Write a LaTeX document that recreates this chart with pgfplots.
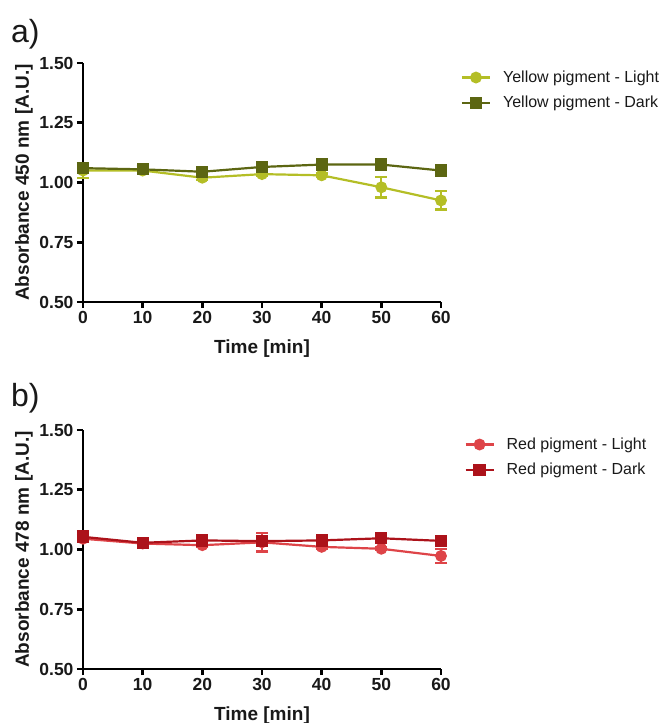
\documentclass[border=0pt]{standalone}
\usepackage{pgfplots}
\pgfplotsset{compat=1.18}
\usepackage{fontspec}
\setmainfont{Liberation Sans}
\definecolor{yl}{RGB}{180,190,38}
\definecolor{yd}{RGB}{92,102,18}
\definecolor{rl}{RGB}{222,68,72}
\definecolor{rd}{RGB}{172,18,26}
\definecolor{txt}{RGB}{25,25,25}
\pgfplotsset{
  myax/.style={
    scale only axis, width=358pt, height=239pt,
    xmin=0, xmax=60, ymin=0.5, ymax=1.5,
    axis lines=left, axis line style={-, line width=2.8pt, black},
    xtick={0,10,...,60}, ytick={0.5,0.75,1,1.25,1.5},
    tick align=outside, major tick length=6pt,
    tick style={line width=2.6pt, black},
    clip=false,
    /pgf/number format/assume math mode=true,
    yticklabel style={/pgf/number format/.cd, fixed, fixed zerofill, precision=2},
    ticklabel style={font=\bfseries\fontsize{17.5}{19}\selectfont, text=txt},
    label style={font=\bfseries\fontsize{19}{21}\selectfont, text=txt},
    ylabel style={at={(axis description cs:-0.165,0.5)}, anchor=center},
    xlabel style={at={(axis description cs:0.5,-0.195)}, anchor=center},
    xlabel={Time [min]},
    legend cell align=left,
    legend style={draw=none, fill=none, anchor=north west, inner sep=0pt,
      font=\fontsize{16}{18}\selectfont, text=txt, row sep=6pt, column sep=9pt,
      nodes={inner sep=3pt}},
    legend image code/.code={
      \draw[mark repeat=2,mark phase=2,#1] plot coordinates {(0pt,0pt) (14pt,0pt) (28pt,0pt)};
    },
    error bars/y dir=both, error bars/y explicit,
    error bars/error bar style={line width=2.2pt},
    error bars/error mark options={rotate=90, mark size=6pt, line width=2.2pt},
  },
  lightp/.style={line width=2.2pt, mark=*, mark size=4.8pt, mark options={solid}},
  darkp/.style={line width=2.2pt, mark=square*, mark size=5pt, mark options={solid}},
}
\begin{document}
\begin{tikzpicture}[x=1pt,y=1pt]
\useasboundingbox (0,0) rectangle (667,723);
\node[anchor=base west, inner sep=0pt, font=\fontsize{32}{36}\selectfont, text=txt] at (11,680) {a)};
\node[anchor=base west, inner sep=0pt, font=\fontsize{32}{36}\selectfont, text=txt] at (11,316) {b)};

\begin{axis}[myax, at={(83pt,421pt)}, anchor=south west,
  ylabel={Absorbance 450 nm [A.U.]},
  legend style={at={(1.055,0.98)}}]
\addplot[lightp, color=yl] coordinates {
 (0,1.050) +- (0,0.030)
 (10,1.050) +- (0,0.015)
 (20,1.020) +- (0,0.008)
 (30,1.035) +- (0,0.008)
 (40,1.030) +- (0,0.008)
 (50,0.980) +- (0,0.043)
 (60,0.925) +- (0,0.038)
};
\addlegendentry{Yellow pigment - Light}
\addplot[darkp, color=yd] coordinates {
 (0,1.060) +- (0,0.020)
 (10,1.055) +- (0,0.015)
 (20,1.045) +- (0,0.008)
 (30,1.065) +- (0,0.008)
 (40,1.075) +- (0,0.008)
 (50,1.075) +- (0,0.008)
 (60,1.050) +- (0,0.005)
};
\addlegendentry{Yellow pigment - Dark}
\end{axis}

\begin{axis}[myax, at={(83pt,54pt)}, anchor=south west,
  ylabel={Absorbance 478 nm [A.U.]},
  legend style={at={(1.065,0.98)}}]
\addplot[lightp, color=rl] coordinates {
 (0,1.045) +- (0,0.015)
 (10,1.025) +- (0,0.005)
 (20,1.018) +- (0,0.008)
 (30,1.030) +- (0,0.038)
 (40,1.011) +- (0,0.008)
 (50,1.003) +- (0,0.005)
 (60,0.973) +- (0,0.030)
};
\addlegendentry{Red pigment - Light}
\addplot[darkp, color=rd] coordinates {
 (0,1.053) +- (0,0.022)
 (10,1.028) +- (0,0.008)
 (20,1.038) +- (0,0.008)
 (30,1.035) +- (0,0.015)
 (40,1.038) +- (0,0.012)
 (50,1.047) +- (0,0.008)
 (60,1.036) +- (0,0.008)
};
\addlegendentry{Red pigment - Dark}
\end{axis}
\end{tikzpicture}
\end{document}
